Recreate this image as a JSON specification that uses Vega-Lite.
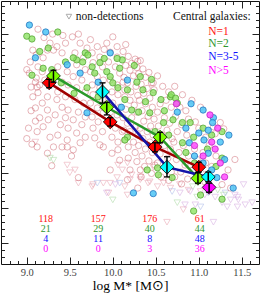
{
  "$schema": "https://vega.github.io/schema/vega-lite/v6.json",
  "width": 258,
  "height": 263,
  "autosize": {"type": "none"},
  "padding": {"left": 1, "top": 1, "right": 1, "bottom": 31},
  "background": "white",
  "config": {
    "view": {"stroke": "#111", "strokeWidth": 1},
    "axis": {"domain": false, "grid": false, "tickColor": "#222", "tickWidth": 1, "labelFont": "Liberation Serif", "titleFont": "Liberation Serif"},
    "text": {"font": "Liberation Serif"}
  },
  "datasets": {
    "red": [
      {"x":9.13,"y":0.57},{"x":9.07,"y":0.27},{"x":9.11,"y":0.20},{"x":9.04,"y":0.10},{"x":9.00,"y":-0.01},{"x":9.03,"y":-0.06},{"x":9.10,"y":-0.19},{"x":9.05,"y":-0.26},{"x":9.12,"y":-0.26},{"x":9.07,"y":-0.40},{"x":9.05,"y":-0.60},{"x":9.10,"y":-0.75},{"x":9.02,"y":-0.85},{"x":9.00,"y":-1.00},{"x":9.06,"y":-1.08},{"x":9.12,"y":-1.12},
      {"x":9.27,"y":0.37},{"x":9.24,"y":0.27},{"x":9.19,"y":0.16},{"x":9.31,"y":0.27},{"x":9.13,"y":0.03},{"x":9.18,"y":-0.04},{"x":9.11,"y":-0.13},{"x":9.21,"y":-0.16},{"x":9.15,"y":-0.23},{"x":9.13,"y":-0.34},{"x":9.24,"y":-0.40},{"x":9.18,"y":-0.49},{"x":9.10,"y":-0.56},{"x":9.24,"y":-0.59},{"x":9.15,"y":-0.70},{"x":9.25,"y":-0.73},{"x":9.19,"y":-0.83},{"x":9.12,"y":-0.90},{"x":9.27,"y":-0.98},{"x":9.31,"y":-1.12},{"x":9.29,"y":-1.39},{"x":9.24,"y":-1.21},
      {"x":9.35,"y":0.32},{"x":9.45,"y":0.37},{"x":9.41,"y":0.23},{"x":9.36,"y":0.03},{"x":9.47,"y":-0.04},{"x":9.41,"y":-0.19},{"x":9.48,"y":-0.23},{"x":9.36,"y":-0.33},{"x":9.45,"y":-0.40},{"x":9.35,"y":-0.44},{"x":9.41,"y":-0.55},{"x":9.48,"y":-0.59},{"x":9.33,"y":-0.66},{"x":9.45,"y":-0.70},{"x":9.39,"y":-0.80},{"x":9.48,"y":-0.85},{"x":9.36,"y":-0.95},{"x":9.47,"y":-1.02},{"x":9.41,"y":-1.12},{"x":9.60,"y":-1.56},{"x":9.52,"y":-1.25},
      {"x":9.53,"y":0.46},{"x":9.62,"y":0.37},{"x":9.56,"y":0.23},{"x":9.66,"y":0.16},{"x":9.58,"y":0.06},{"x":9.68,"y":-0.01},{"x":9.54,"y":-0.11},{"x":9.64,"y":-0.16},{"x":9.58,"y":-0.27},{"x":9.68,"y":-0.33},{"x":9.56,"y":-0.44},{"x":9.66,"y":-0.49},{"x":9.60,"y":-0.62},{"x":9.68,"y":-0.69},{"x":9.54,"y":-0.73},{"x":9.64,"y":-0.80},{"x":9.58,"y":-0.92},{"x":9.68,"y":-0.98},{"x":9.62,"y":-1.06},
      {"x":9.74,"y":0.42},{"x":9.82,"y":0.32},{"x":9.76,"y":0.23},{"x":9.85,"y":0.17},{"x":9.77,"y":0.09},{"x":9.88,"y":0.03},{"x":9.74,"y":-0.04},{"x":9.82,"y":-0.11},{"x":9.89,"y":-0.16},{"x":9.76,"y":-0.23},{"x":9.85,"y":-0.27},{"x":9.77,"y":-0.37},{"x":9.88,"y":-0.44},{"x":9.74,"y":-0.49},{"x":9.82,"y":-0.56},{"x":9.89,"y":-0.63},{"x":9.76,"y":-0.69},{"x":9.83,"y":-0.76},{"x":9.77,"y":-0.85},{"x":9.88,"y":-0.90},{"x":9.79,"y":-0.99},{"x":9.85,"y":-1.09},
      {"x":9.47,"y":-1.12},{"x":9.54,"y":-1.16},{"x":9.89,"y":-1.12},{"x":9.99,"y":-1.21},{"x":10.06,"y":-1.16},{"x":10.08,"y":-1.31},{"x":9.97,"y":-1.45},{"x":10.18,"y":-1.28},{"x":10.28,"y":-1.33},{"x":10.20,"y":-1.45},{"x":10.32,"y":-1.45},{"x":10.29,"y":-1.71},{"x":10.17,"y":-1.59},
      {"x":9.93,"y":0.37},{"x":10.00,"y":0.46},{"x":9.97,"y":0.24},{"x":10.05,"y":0.17},{"x":9.95,"y":0.10},{"x":10.03,"y":0.03},{"x":10.08,"y":-0.06},{"x":9.97,"y":-0.16},{"x":10.05,"y":-0.23},{"x":10.12,"y":-0.19},{"x":9.99,"y":-0.33},{"x":10.06,"y":-0.37},{"x":10.14,"y":-0.40},{"x":10.00,"y":-0.49},{"x":10.08,"y":-0.55},{"x":9.97,"y":-0.62},{"x":10.05,"y":-0.66},{"x":10.12,"y":-0.70},{"x":10.03,"y":-0.85},{"x":10.11,"y":-0.90},{"x":9.99,"y":-0.98},{"x":10.06,"y":-1.05},{"x":10.14,"y":-1.02},
      {"x":10.12,"y":0.25},{"x":10.18,"y":0.18},{"x":10.22,"y":0.08},{"x":10.26,"y":0.14},{"x":10.15,"y":0.05},{"x":10.20,"y":-0.02},{"x":10.28,"y":0.02},{"x":10.13,"y":-0.12},{"x":10.24,"y":-0.10},{"x":10.30,"y":-0.07},{"x":10.17,"y":-0.20},{"x":10.27,"y":-0.25},{"x":10.21,"y":-0.33},{"x":10.14,"y":-0.30},{"x":10.29,"y":-0.38},{"x":10.20,"y":-0.45},{"x":10.25,"y":-0.52},{"x":10.15,"y":-0.58},{"x":10.28,"y":-0.62},{"x":10.22,"y":-0.70},{"x":10.17,"y":-0.78},{"x":10.27,"y":-0.82},{"x":10.20,"y":-0.90},{"x":10.29,"y":-0.95},{"x":10.13,"y":-0.88},{"x":10.24,"y":-1.05},{"x":10.18,"y":-1.12},{"x":10.26,"y":-1.20},
      {"x":10.32,"y":0.12},{"x":10.35,"y":0.00},{"x":10.42,"y":-0.05},{"x":10.38,"y":-0.12},{"x":10.45,"y":-0.20},{"x":10.33,"y":-0.22},{"x":10.40,"y":-0.28},{"x":10.48,"y":-0.30},{"x":10.36,"y":-0.35},{"x":10.43,"y":-0.42},{"x":10.31,"y":-0.45},{"x":10.38,"y":-0.50},{"x":10.46,"y":-0.55},{"x":10.34,"y":-0.60},{"x":10.41,"y":-0.68},{"x":10.48,"y":-0.72},{"x":10.36,"y":-0.75},{"x":10.44,"y":-0.82},{"x":10.32,"y":-0.85},{"x":10.40,"y":-0.90},{"x":10.47,"y":-0.95},{"x":10.35,"y":-1.00},{"x":10.43,"y":-1.05},{"x":10.30,"y":-1.10},{"x":10.38,"y":-1.15},{"x":10.46,"y":-1.20},{"x":10.34,"y":-1.25},{"x":10.42,"y":-1.32},{"x":10.49,"y":-1.38},{"x":10.37,"y":-1.40},{"x":10.45,"y":-1.50},{"x":10.33,"y":-1.55},
      {"x":10.65,"y":-0.33},{"x":10.47,"y":-0.20},{"x":10.29,"y":0.11},{"x":10.52,"y":-0.10},{"x":10.58,"y":-0.25},{"x":10.62,"y":-0.45},{"x":10.55,"y":-0.50},{"x":10.68,"y":-0.55},{"x":10.52,"y":-0.62},{"x":10.60,"y":-0.70},{"x":10.66,"y":-0.78},{"x":10.53,"y":-0.82},{"x":10.63,"y":-0.88},{"x":10.57,"y":-0.95},{"x":10.69,"y":-1.00},{"x":10.51,"y":-1.05},{"x":10.60,"y":-1.10},{"x":10.67,"y":-1.15},{"x":10.55,"y":-1.22},{"x":10.64,"y":-1.28},{"x":10.52,"y":-1.35},{"x":10.61,"y":-1.42},{"x":10.68,"y":-1.48},{"x":10.56,"y":-1.55},{"x":10.65,"y":-1.60},
      {"x":10.81,"y":-0.37},{"x":10.72,"y":-0.25},{"x":10.78,"y":-0.55},{"x":10.85,"y":-0.60},{"x":10.73,"y":-0.68},{"x":10.88,"y":-0.72},{"x":10.80,"y":-0.80},{"x":10.75,"y":-0.90},{"x":10.86,"y":-0.95},{"x":10.71,"y":-1.05},{"x":10.82,"y":-1.10},{"x":10.77,"y":-1.20},{"x":10.88,"y":-1.25},{"x":10.74,"y":-1.30},{"x":10.84,"y":-1.38},{"x":10.79,"y":-1.48},{"x":10.72,"y":-1.55},{"x":10.87,"y":-1.58},{"x":10.80,"y":-1.65},
      {"x":11.02,"y":-0.55},{"x":10.96,"y":-0.76},{"x":11.08,"y":-0.98},{"x":10.92,"y":-0.45},{"x":11.00,"y":-0.85},{"x":10.95,"y":-1.15},{"x":11.05,"y":-1.20},{"x":10.98,"y":-1.30},{"x":11.08,"y":-1.35},{"x":10.93,"y":-1.45},{"x":11.03,"y":-1.50},{"x":11.07,"y":-1.62},{"x":10.97,"y":-1.58},
      {"x":11.17,"y":-0.83},{"x":11.25,"y":-0.77},{"x":11.19,"y":-0.93},{"x":11.29,"y":-0.86},{"x":11.34,"y":-1.45},{"x":11.27,"y":-1.66},{"x":11.37,"y":-1.71},{"x":11.12,"y":-1.10},{"x":11.20,"y":-1.25},{"x":11.15,"y":-1.40},{"x":11.42,"y":-1.30},
      {"x":9.30,"y":0.50},{"x":9.42,"y":0.48},{"x":9.20,"y":0.45},{"x":9.60,"y":0.50},{"x":9.70,"y":0.30},{"x":9.90,"y":0.28},{"x":10.05,"y":0.32},{"x":10.15,"y":0.35}
    ],
    "green": [
      {"x":9.36,"y":0.53},{"x":9.00,"y":0.47},{"x":9.06,"y":0.43},{"x":9.58,"y":0.13},{"x":9.68,"y":0.23},{"x":9.71,"y":0.20},{"x":9.85,"y":0.09},{"x":9.79,"y":-0.06},{"x":9.93,"y":-0.04},{"x":9.97,"y":-0.11},{"x":10.08,"y":0.01},{"x":10.11,"y":0.13},{"x":9.06,"y":-0.09},{"x":9.19,"y":0.01},{"x":9.29,"y":-0.01},{"x":9.70,"y":-0.27},{"x":9.83,"y":-0.40},{"x":10.06,"y":-0.27},{"x":10.17,"y":-0.30},{"x":10.14,"y":-0.44},
      {"x":9.45,"y":0.10},{"x":9.54,"y":0.16},{"x":9.65,"y":0.10},{"x":9.76,"y":0.03},{"x":10.32,"y":-0.11},{"x":10.28,"y":-0.19},{"x":10.47,"y":-0.34},{"x":10.38,"y":-0.47},{"x":10.22,"y":-0.59},{"x":10.30,"y":-0.62},{"x":10.43,"y":-0.63},{"x":10.17,"y":-0.98},{"x":10.14,"y":-1.02},{"x":10.40,"y":-1.45},{"x":10.52,"y":-1.42},{"x":10.53,"y":-1.52},
      {"x":10.56,"y":-0.44},{"x":10.67,"y":-0.40},{"x":10.49,"y":-0.90},{"x":10.90,"y":-0.77},{"x":10.68,"y":-0.37},{"x":10.73,"y":-0.42},{"x":10.75,"y":-0.49},{"x":10.70,"y":-0.73},{"x":10.59,"y":-0.77},{"x":10.81,"y":-0.77},{"x":10.94,"y":-0.98},{"x":11.27,"y":-0.90},{"x":11.27,"y":-1.28},{"x":10.69,"y":-1.56},{"x":11.02,"y":-1.81},{"x":10.81,"y":-1.06},{"x":11.27,"y":-1.87},{"x":10.94,"y":-2.04},
      {"x":9.15,"y":0.25},{"x":9.25,"y":0.30},{"x":9.40,"y":-0.20},{"x":9.55,"y":-0.35},{"x":9.90,"y":0.15},{"x":10.00,"y":-0.20},{"x":10.05,"y":0.15},{"x":10.25,"y":0.05},{"x":10.35,"y":-0.30},{"x":10.45,"y":-0.15},{"x":10.60,"y":-0.60},{"x":10.65,"y":-0.95},{"x":10.85,"y":-1.20},{"x":10.95,"y":-1.35},{"x":11.10,"y":-1.15},{"x":11.15,"y":-0.95},{"x":11.20,"y":-1.40},{"x":11.05,"y":-0.85}
    ],
    "blue": [
      {"x":9.03,"y":0.63},{"x":9.22,"y":0.53},{"x":9.10,"y":0.16},{"x":9.47,"y":0.06},{"x":9.62,"y":-0.06},{"x":9.97,"y":0.23},{"x":10.17,"y":-0.16},{"x":9.70,"y":-0.63},{"x":9.83,"y":-0.19},{"x":10.91,"y":-0.50},{"x":11.05,"y":-0.59},{"x":11.17,"y":-0.70},{"x":10.89,"y":-1.06},{"x":11.11,"y":-0.88},{"x":11.11,"y":-1.21},{"x":11.21,"y":-1.56},{"x":11.40,"y":-1.71},{"x":10.47,"y":-1.79},{"x":10.24,"y":-1.78},{"x":11.16,"y":-0.77},{"x":10.10,"y":-0.55},{"x":11.06,"y":-1.02},
      {"x":11.00,"y":-0.92},{"x":11.25,"y":-1.05},{"x":11.30,"y":-1.30},{"x":10.95,"y":-1.25},{"x":11.15,"y":-1.45},{"x":11.05,"y":-1.35},{"x":10.85,"y":-0.85},{"x":11.35,"y":-0.95},{"x":10.75,"y":-0.62}
    ],
    "mag": [
      {"x":10.74,"y":-0.50},{"x":11.13,"y":-0.66},{"x":11.19,"y":-1.15},{"x":11.05,"y":-1.25},{"x":11.25,"y":-1.35},{"x":11.15,"y":-1.05},{"x":11.30,"y":-1.55},{"x":10.95,"y":-1.10},{"x":11.22,"y":-0.85}
    ],
    "nd": [
      {"x":9.10,"y":-1.05,"g":1},{"x":9.47,"y":-1.38,"g":1},{"x":9.56,"y":-1.45,"g":1},{"x":9.77,"y":-1.66,"g":1},{"x":10.05,"y":-1.56,"g":1},{"x":10.11,"y":-1.45,"g":1},{"x":10.06,"y":-1.38,"g":1},{"x":10.17,"y":-1.35,"g":1},{"x":10.22,"y":-1.52,"g":1},{"x":10.32,"y":-1.59,"g":1},{"x":10.41,"y":-1.64,"g":1},{"x":9.95,"y":-1.78,"g":1},{"x":10.17,"y":-1.81,"g":1},{"x":10.20,"y":-1.59,"g":1},{"x":10.43,"y":-1.62,"g":1},{"x":10.52,"y":-1.69,"g":1},{"x":10.59,"y":-1.64,"g":1},{"x":10.67,"y":-1.71,"g":1},{"x":10.47,"y":-1.41,"g":1},{"x":9.60,"y":-1.64,"g":1},{"x":9.76,"y":-1.69,"g":1},{"x":9.89,"y":-1.64,"g":1},{"x":9.97,"y":-1.64,"g":1},{"x":10.14,"y":-1.69,"g":1},{"x":10.78,"y":-1.66,"g":1},{"x":10.88,"y":-1.74,"g":1},{"x":11.02,"y":-1.76,"g":1},{"x":10.32,"y":-1.55,"g":1},{"x":10.63,"y":-2.20,"g":1},{"x":10.82,"y":-2.02,"g":1},{"x":9.50,"y":-1.49,"g":1},
      {"x":9.27,"y":-1.28,"g":2},{"x":9.31,"y":-1.31,"g":2},{"x":10.00,"y":-1.88,"g":2},{"x":10.93,"y":-1.69,"g":2},{"x":11.22,"y":-1.74,"g":2},{"x":10.75,"y":-1.92,"g":2},{"x":11.29,"y":-1.81,"g":2},{"x":10.98,"y":-1.84,"g":2},
      {"x":9.82,"y":-1.64,"g":3},{"x":10.08,"y":-1.64,"g":3},{"x":10.69,"y":-1.76,"g":3},{"x":11.11,"y":-1.78,"g":3},{"x":11.31,"y":-1.78,"g":3},{"x":11.02,"y":-1.98,"g":3},
      {"x":10.03,"y":-1.66,"g":4},{"x":10.78,"y":-1.78,"g":4},{"x":10.90,"y":-1.76,"g":4},{"x":11.07,"y":-1.81,"g":4},{"x":11.19,"y":-1.84,"g":4},{"x":11.42,"y":-1.81,"g":4},{"x":11.46,"y":-1.88,"g":4},{"x":11.37,"y":-1.88,"g":4},{"x":11.45,"y":-1.84,"g":4},{"x":11.33,"y":-1.98,"g":4},{"x":11.17,"y":-2.20,"g":4},{"x":10.96,"y":-1.95,"g":4},{"x":11.45,"y":-1.98,"g":4},{"x":10.84,"y":-1.95,"g":4},{"x":11.27,"y":-1.92,"g":4},{"x":11.54,"y":-1.95,"g":4},{"x":11.62,"y":-1.92,"g":4},{"x":11.52,"y":-1.66,"g":4},{"x":9.93,"y":-1.78,"g":4}
    ],
    "sum": [
      {"x":9.26,"y":-0.20,"lo":-0.27,"hi":-0.15,"g":1},{"x":9.97,"y":-0.76,"lo":-0.82,"hi":-0.70,"g":1},{"x":10.49,"y":-1.12,"lo":-1.19,"hi":-1.06,"g":1},{"x":11.00,"y":-1.41,"lo":-1.48,"hi":-1.34,"g":1},
      {"x":9.31,"y":-0.10,"lo":-0.19,"hi":-0.02,"g":2},{"x":9.93,"y":-0.55,"lo":-0.66,"hi":-0.48,"g":2},{"x":10.55,"y":-0.98,"lo":-1.06,"hi":-0.91,"g":2},{"x":10.99,"y":-1.57,"lo":-1.64,"hi":-1.49,"g":2},
      {"x":9.88,"y":-0.33,"lo":-0.49,"hi":-0.20,"g":3},{"x":10.63,"y":-1.41,"lo":-1.55,"hi":-1.26,"g":3},{"x":11.11,"y":-1.55,"lo":-1.62,"hi":-1.48,"g":3},
      {"x":11.12,"y":-1.70,"lo":-1.77,"hi":-1.64,"g":4}
    ],
    "cnt": [
      {"x":9.22,"y":-2.15,"n":"118","g":1},{"x":9.83,"y":-2.15,"n":"157","g":1},{"x":10.43,"y":-2.15,"n":"176","g":1},{"x":11.01,"y":-2.15,"n":"61","g":1},
      {"x":9.22,"y":-2.30,"n":"21","g":2},{"x":9.83,"y":-2.30,"n":"29","g":2},{"x":10.43,"y":-2.30,"n":"40","g":2},{"x":11.01,"y":-2.30,"n":"44","g":2},
      {"x":9.22,"y":-2.44,"n":"4","g":3},{"x":9.83,"y":-2.44,"n":"11","g":3},{"x":10.43,"y":-2.44,"n":"8","g":3},{"x":11.01,"y":-2.44,"n":"48","g":3},
      {"x":9.22,"y":-2.58,"n":"0","g":4},{"x":9.83,"y":-2.58,"n":"0","g":4},{"x":10.43,"y":-2.58,"n":"3","g":4},{"x":11.01,"y":-2.58,"n":"36","g":4}
    ],
    "nlab": [
      {"x":11.11,"y":0.53,"n":"N=1","g":1},{"x":11.11,"y":0.36,"n":"N=2","g":2},{"x":11.11,"y":0.17,"n":"N=3-5","g":3},{"x":11.11,"y":-0.03,"n":"N>5","g":4}
    ],
    "leg": [
      {"x":9.57,"y":0.75,"n":"non-detections"},{"x":10.70,"y":0.75,"n":"Central galaxies:"}
    ],
    "legsym": [
      {"x":9.49,"y":0.75}
    ]
  },
  "resolve": {"axis": {"x": "independent", "y": "independent"}, "scale": {"color": "independent", "stroke": "independent", "fill": "independent"}},
  "layer": [
    {
      "data": {"name": "nd"},
      "mark": {"type": "point", "shape": "triangle-down", "filled": false, "size": 42, "strokeWidth": 1, "strokeOpacity": 0.75},
      "encoding": {
        "x": {"field": "x", "type": "quantitative", "scale": {"domain": [8.7, 11.7], "nice": false, "zero": false},
              "axis": {"orient": "bottom", "values": [9, 9.5, 10, 10.5, 11, 11.5], "format": ".1f", "tickSize": -7, "labelPadding": 10, "labelFontSize": 10.5, "labelColor": "#444", "title": "log M* [M\u2299]", "titleFontSize": 13.5, "titleFontWeight": "normal", "titleColor": "#000", "titlePadding": 1}},
        "y": {"field": "y", "type": "quantitative", "scale": {"domain": [-2.8, 0.975], "nice": false, "zero": false},
              "axis": {"orient": "left", "values": [-2.5, -2, -1.5, -1, -0.5, 0, 0.5], "tickSize": -7, "labels": false, "title": null}},
        "stroke": {"field": "g", "type": "nominal", "legend": null, "scale": {"domain": [1, 2, 3, 4], "range": ["#e8a0ae", "#a8d8a0", "#a8b8e8", "#d4a8e0"]}}
      }
    },
    {
      "data": {"name": "red"},
      "mark": {"type": "point", "shape": "circle", "filled": false, "size": 40, "stroke": "#c8505c", "strokeOpacity": 0.6, "strokeWidth": 1},
      "encoding": {
        "x": {"field": "x", "type": "quantitative", "axis": {"orient": "bottom", "values": [8.8, 8.9, 9.1, 9.2, 9.3, 9.4, 9.6, 9.7, 9.8, 9.9, 10.1, 10.2, 10.3, 10.4, 10.6, 10.7, 10.8, 10.9, 11.1, 11.2, 11.3, 11.4, 11.6], "tickSize": -3.5, "labels": false, "title": null}},
        "y": {"field": "y", "type": "quantitative", "axis": {"orient": "left", "values": [-2.7, -2.6, -2.4, -2.3, -2.2, -2.1, -1.9, -1.8, -1.7, -1.6, -1.4, -1.3, -1.2, -1.1, -0.9, -0.8, -0.7, -0.6, -0.4, -0.3, -0.2, -0.1, 0.1, 0.2, 0.3, 0.4, 0.6, 0.7, 0.8, 0.9], "tickSize": -3.5, "labels": false, "title": null}}
      }
    },
    {
      "data": {"name": "green"},
      "mark": {"type": "point", "shape": "circle", "filled": true, "size": 40, "fill": "#86e05a", "fillOpacity": 0.75, "stroke": "#5aa83a", "strokeOpacity": 0.8, "strokeWidth": 1},
      "encoding": {
        "x": {"field": "x", "type": "quantitative", "axis": {"orient": "top", "values": [9, 9.5, 10, 10.5, 11, 11.5], "tickSize": -7, "labels": false, "title": null}},
        "y": {"field": "y", "type": "quantitative", "axis": {"orient": "right", "values": [-2.5, -2, -1.5, -1, -0.5, 0, 0.5], "tickSize": -7, "labels": false, "title": null}}
      }
    },
    {
      "data": {"name": "blue"},
      "mark": {"type": "point", "shape": "circle", "filled": true, "size": 40, "fill": "#4cc4f4", "fillOpacity": 0.85, "stroke": "#2a78c0", "strokeOpacity": 0.8, "strokeWidth": 1},
      "encoding": {
        "x": {"field": "x", "type": "quantitative", "axis": {"orient": "top", "values": [8.8, 8.9, 9.1, 9.2, 9.3, 9.4, 9.6, 9.7, 9.8, 9.9, 10.1, 10.2, 10.3, 10.4, 10.6, 10.7, 10.8, 10.9, 11.1, 11.2, 11.3, 11.4, 11.6], "tickSize": -3.5, "labels": false, "title": null}},
        "y": {"field": "y", "type": "quantitative", "axis": {"orient": "right", "values": [-2.7, -2.6, -2.4, -2.3, -2.2, -2.1, -1.9, -1.8, -1.7, -1.6, -1.4, -1.3, -1.2, -1.1, -0.9, -0.8, -0.7, -0.6, -0.4, -0.3, -0.2, -0.1, 0.1, 0.2, 0.3, 0.4, 0.6, 0.7, 0.8, 0.9], "tickSize": -3.5, "labels": false, "title": null}}
      }
    },
    {
      "data": {"name": "mag"},
      "mark": {"type": "point", "shape": "circle", "filled": true, "size": 40, "fill": "#ff4cff", "fillOpacity": 0.85, "stroke": "#c020c0", "strokeOpacity": 0.8, "strokeWidth": 1},
      "encoding": {
        "x": {"field": "x", "type": "quantitative", "axis": null},
        "y": {"field": "y", "type": "quantitative", "axis": null}
      }
    },
    {
      "data": {"name": "sum"},
      "transform": [{"filter": "datum.g < 4"}],
      "mark": {"type": "line", "strokeWidth": 2.5},
      "encoding": {
        "x": {"field": "x", "type": "quantitative", "axis": null},
        "y": {"field": "y", "type": "quantitative", "axis": null},
        "color": {"field": "g", "type": "nominal", "legend": null, "scale": {"domain": [1, 2, 3], "range": ["#a00000", "#2a9a2a", "#1414a8"]}}
      }
    },
    {
      "data": {"name": "sum"},
      "mark": {"type": "point", "shape": "diamond", "filled": true, "size": 190, "stroke": "#000", "strokeWidth": 0.8, "fillOpacity": 1},
      "encoding": {
        "x": {"field": "x", "type": "quantitative", "axis": null},
        "y": {"field": "y", "type": "quantitative", "axis": null},
        "fill": {"field": "g", "type": "nominal", "legend": null, "scale": {"domain": [1, 2, 3, 4], "range": ["#ff0000", "#7cfc00", "#00ffff", "#ff00ff"]}}
      }
    },
    {
      "data": {"name": "sum"},
      "mark": {"type": "rule", "color": "#000", "strokeWidth": 1.5},
      "encoding": {
        "x": {"field": "x", "type": "quantitative", "axis": null},
        "y": {"field": "lo", "type": "quantitative", "axis": null},
        "y2": {"field": "hi"}
      }
    },
    {
      "data": {"name": "sum"},
      "mark": {"type": "tick", "orient": "horizontal", "color": "#000", "size": 6, "thickness": 1.3, "opacity": 1},
      "encoding": {
        "x": {"field": "x", "type": "quantitative", "axis": null},
        "y": {"field": "lo", "type": "quantitative", "axis": null}
      }
    },
    {
      "data": {"name": "sum"},
      "mark": {"type": "tick", "orient": "horizontal", "color": "#000", "size": 6, "thickness": 1.3, "opacity": 1},
      "encoding": {
        "x": {"field": "x", "type": "quantitative", "axis": null},
        "y": {"field": "hi", "type": "quantitative", "axis": null}
      }
    },
    {
      "data": {"name": "cnt"},
      "mark": {"type": "text", "fontSize": 10, "align": "center", "baseline": "middle"},
      "encoding": {
        "x": {"field": "x", "type": "quantitative", "axis": null},
        "y": {"field": "y", "type": "quantitative", "axis": null},
        "text": {"field": "n"},
        "color": {"field": "g", "type": "nominal", "legend": null, "scale": {"domain": [1, 2, 3, 4], "range": ["#ff1010", "#2e962e", "#1010ff", "#ff00ff"]}}
      }
    },
    {
      "data": {"name": "nlab"},
      "mark": {"type": "text", "fontSize": 11.5, "align": "left", "baseline": "middle"},
      "encoding": {
        "x": {"field": "x", "type": "quantitative", "axis": null},
        "y": {"field": "y", "type": "quantitative", "axis": null},
        "text": {"field": "n"},
        "color": {"field": "g", "type": "nominal", "legend": null, "scale": {"domain": [1, 2, 3, 4], "range": ["#ff1010", "#2e962e", "#1010ff", "#ff00ff"]}}
      }
    },
    {
      "data": {"name": "leg"},
      "mark": {"type": "text", "fontSize": 11.5, "align": "left", "baseline": "middle", "color": "#111"},
      "encoding": {
        "x": {"field": "x", "type": "quantitative", "axis": null},
        "y": {"field": "y", "type": "quantitative", "axis": null},
        "text": {"field": "n"}
      }
    },
    {
      "data": {"name": "legsym"},
      "mark": {"type": "point", "shape": "triangle-down", "filled": false, "size": 30, "stroke": "#888", "strokeWidth": 1},
      "encoding": {
        "x": {"field": "x", "type": "quantitative", "axis": null},
        "y": {"field": "y", "type": "quantitative", "axis": null}
      }
    }
  ]
}
